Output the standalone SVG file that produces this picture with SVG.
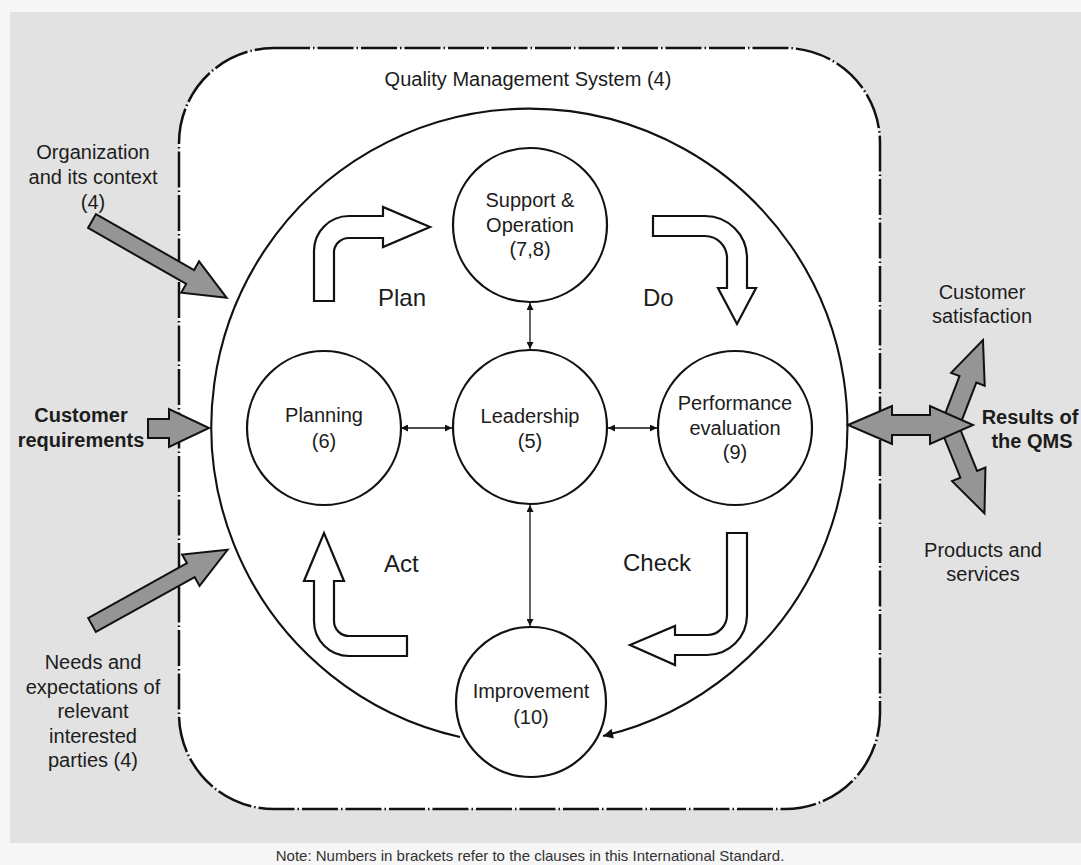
<svg xmlns="http://www.w3.org/2000/svg" width="1081" height="865" viewBox="0 0 1081 865">
  <style>
    text { font-family: "Liberation Sans", Arial, sans-serif; fill: #1c1c1c; }
    .lbl { font-size: 20px; text-anchor: middle; }
    .bold { font-weight: bold; }
    .phase { font-size: 24px; }
    .node { fill: #fff; stroke: #111; stroke-width: 2.2; }
    .block { fill: #fff; stroke: #111; stroke-width: 2.2; stroke-linejoin: miter; }
    .gray { fill: #959595; stroke: #111; stroke-width: 2; stroke-linejoin: miter; }
    .link { fill: none; stroke: #111; stroke-width: 1.3; }
    .ring { fill: none; stroke: #111; stroke-width: 2.1; }
    .note { font-size: 15px; text-anchor: middle; fill: #333; }
  </style>
  <defs>
    <marker id="tip" viewBox="0 0 10 10" refX="10" refY="5" markerWidth="8" markerHeight="7" markerUnits="userSpaceOnUse" orient="auto-start-reverse">
      <path d="M0 0 L10 5 L0 10 Z" fill="#111"/>
    </marker>
    <marker id="bigtip" viewBox="0 0 10 10" refX="10" refY="5" markerWidth="16" markerHeight="10" markerUnits="userSpaceOnUse" orient="auto">
      <path d="M0 0 L10 5 L0 10 Z" fill="#111"/>
    </marker>
    <polygon id="grayArrow" points="0,-8 113,-8 113,-18 155,0 113,18 113,8 0,8"/>
    <polygon id="outArrow" points="0,-9 50,-9 50,-18 92,0 50,18 50,9 0,9"/>
  </defs>

  <!-- page and backdrop -->
  <rect x="0" y="0" width="1081" height="865" fill="#f6f6f6"/>
  <rect x="10" y="12" width="1071" height="831" fill="#e2e2e2"/>

  <!-- QMS boundary -->
  <g id="qms">
    <rect x="179" y="48" width="701" height="761" rx="95" ry="95" fill="#fff" stroke="#111" stroke-width="2.5" stroke-dasharray="36 3 1.5 3"/>
    <text class="lbl" x="528" y="86">Quality Management System (4)</text>
  </g>

  <!-- PDCA cycle ring ending at Improvement, and leadership links -->
  <g id="connectors">
    <path class="ring" d="M 460 737 A 318 318 0 1 1 603 736" marker-end="url(#bigtip)"/>
    <line class="link" x1="401" y1="428" x2="452" y2="428" marker-start="url(#tip)" marker-end="url(#tip)"/>
    <line class="link" x1="608" y1="428" x2="657" y2="428" marker-start="url(#tip)" marker-end="url(#tip)"/>
    <line class="link" x1="530" y1="303" x2="530" y2="349" marker-start="url(#tip)" marker-end="url(#tip)"/>
    <line class="link" x1="530" y1="505" x2="530" y2="626" marker-start="url(#tip)" marker-end="url(#tip)"/>
  </g>

  <!-- curved process arrows -->
  <g id="plan-arrow">
    <path class="block" d="M 314 301 V 251 A 35 35 0 0 1 349 216 H 383 V 207 L 430 227 L 383 247 V 238 H 349 A 15 15 0 0 0 334 251 V 301 Z"/>
    <text class="phase" x="378" y="306">Plan</text>
  </g>
  <g id="do-arrow">
    <path class="block" d="M 653 216 H 705 A 42 42 0 0 1 747 258 V 288 H 756 L 737 324 L 718 288 H 727 V 258 A 22 22 0 0 0 705 236 H 653 Z"/>
    <text class="phase" x="643" y="306">Do</text>
  </g>
  <g id="check-arrow">
    <path class="block" d="M 727 533 H 747 V 615 A 40 40 0 0 1 707 655 H 675 V 665 L 630 645 L 675 626 V 635 H 707 A 20 20 0 0 0 727 615 V 533 Z"/>
    <text class="phase" x="623" y="571">Check</text>
  </g>
  <g id="act-arrow">
    <path class="block" d="M 407 636 H 349 A 15 15 0 0 1 334 621 V 581 H 344 L 324 533 L 304 581 H 314 V 621 A 35 35 0 0 0 349 656 H 407 Z"/>
    <text class="phase" x="384" y="572">Act</text>
  </g>

  <!-- process nodes -->
  <g id="support-operation">
    <circle class="node" cx="530" cy="225" r="77"/>
    <text class="lbl" x="530" y="207">Support &amp;</text>
    <text class="lbl" x="530" y="232">Operation</text>
    <text class="lbl" x="530" y="256">(7,8)</text>
  </g>
  <g id="planning">
    <circle class="node" cx="324" cy="428" r="77"/>
    <text class="lbl" x="324" y="422">Planning</text>
    <text class="lbl" x="324" y="448">(6)</text>
  </g>
  <g id="leadership">
    <circle class="node" cx="530" cy="427" r="77"/>
    <text class="lbl" x="530" y="423">Leadership</text>
    <text class="lbl" x="530" y="448">(5)</text>
  </g>
  <g id="performance-evaluation">
    <circle class="node" cx="735" cy="428" r="77"/>
    <text class="lbl" x="735" y="410">Performance</text>
    <text class="lbl" x="735" y="435">evaluation</text>
    <text class="lbl" x="735" y="459">(9)</text>
  </g>
  <g id="improvement">
    <circle class="node" cx="531" cy="702" r="75"/>
    <text class="lbl" x="531" y="698">Improvement</text>
    <text class="lbl" x="531" y="724">(10)</text>
  </g>

  <!-- inputs -->
  <g id="organization-context">
    <use href="#grayArrow" class="gray" transform="translate(92,221) rotate(29.7)"/>
    <text class="lbl" x="93" y="159">Organization</text>
    <text class="lbl" x="93" y="184">and its context</text>
    <text class="lbl" x="93" y="209">(4)</text>
  </g>
  <g id="customer-requirements">
    <polygon class="gray" points="148,419 169,419 169,409 209,428 169,447 169,438 148,438"/>
    <text class="lbl bold" x="81" y="422">Customer</text>
    <text class="lbl bold" x="81" y="447">requirements</text>
  </g>
  <g id="interested-parties">
    <use href="#grayArrow" class="gray" transform="translate(92,625) rotate(-29)"/>
    <text class="lbl" x="93" y="669">Needs and</text>
    <text class="lbl" x="93" y="694">expectations of</text>
    <text class="lbl" x="93" y="718">relevant</text>
    <text class="lbl" x="93" y="743">interested</text>
    <text class="lbl" x="93" y="767">parties (4)</text>
  </g>

  <!-- outputs -->
  <g id="results">
    <use href="#outArrow" class="gray" transform="translate(950,426) rotate(-69)"/>
    <use href="#outArrow" class="gray" transform="translate(950,428) rotate(68)"/>
    <polygon class="gray" points="848,425 892,406 892,415 930,415 930,406 973,425 930,444 930,435 892,435 892,444"/>
    <text class="lbl bold" x="1030" y="424">Results of</text>
    <text class="lbl bold" x="1032" y="448">the QMS</text>
  </g>
  <g id="customer-satisfaction">
    <text class="lbl" x="982" y="299">Customer</text>
    <text class="lbl" x="982" y="323">satisfaction</text>
  </g>
  <g id="products-services">
    <text class="lbl" x="983" y="557">Products and</text>
    <text class="lbl" x="983" y="581">services</text>
  </g>

  <text class="note" x="530" y="861">Note: Numbers in brackets refer to the clauses in this International Standard.</text>
</svg>
